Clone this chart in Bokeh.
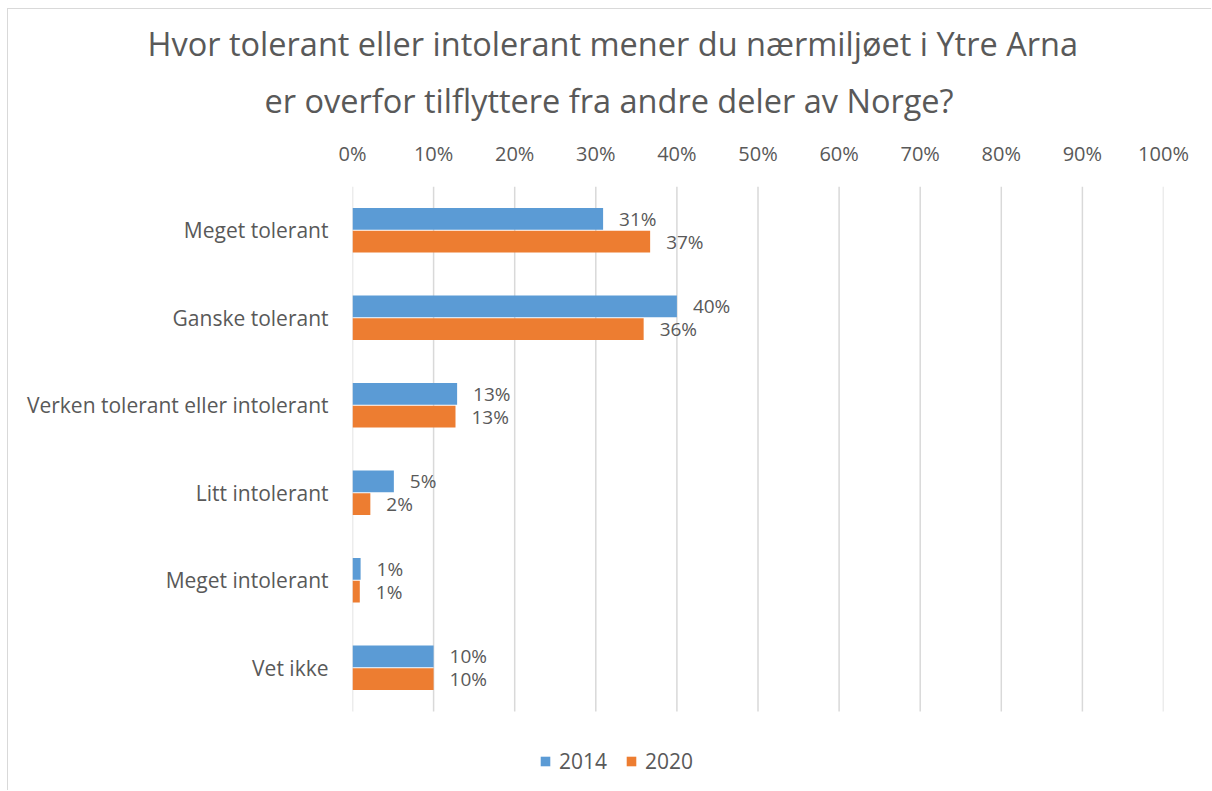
from bokeh.plotting import figure
from bokeh.models import ColumnDataSource, Legend, LegendItem, Title, LabelSet, FixedTicker
from bokeh.core.properties import value
from bokeh.embed import file_html
from bokeh.resources import INLINE

categories = ["Meget tolerant", "Ganske tolerant", "Verken tolerant eller intolerant",
              "Litt intolerant", "Meget intolerant", "Vet ikke"]
values_2014 = [30.9, 40.0, 12.9, 5.1, 1.0, 10.0]
values_2020 = [36.7, 35.9, 12.7, 2.2, 0.9, 10.0]
series_names = ["2014", "2020"]
x_ticks = [0, 10, 20, 30, 40, 50, 60, 70, 80, 90, 100]
title_lines = ["Hvor tolerant eller intolerant mener du nærmiljøet i Ytre Arna",
               "er overfor tilflyttere fra andre deler av Norge?"]

BLUE = "#5B9BD5"
ORANGE = "#ED7D31"
TXT = "#595959"
FONT = "Open Sans"

n = len(categories)
ypos = [n - 1 - i for i in range(n)]
DY = 0.13
src = ColumnDataSource(dict(
    y14=[y + DY for y in ypos],
    y20=[y - DY for y in ypos],
    v14=values_2014,
    v20=values_2020,
    l14=[f"{round(v):.0f}%" for v in values_2014],
    l20=[f"{round(v):.0f}%" for v in values_2020],
))
grid_src = ColumnDataSource(dict(x=x_ticks, y0=[-0.5] * len(x_ticks), y1=[n - 0.5] * len(x_ticks)))

p = figure(width=1204, height=782, output_backend="svg", toolbar_location=None,
           x_range=(0, 100), y_range=(-1.357, n - 0.5),
           x_axis_location="above", title=None)
p.min_border_left = 344
p.min_border_right = 49
p.min_border_top = 177
p.min_border_bottom = 5
p.outline_line_color = None
p.styles = {"margin-left": "7px", "margin-top": "8px",
            "border-left": "1.5px solid #d9d9d9", "border-top": "1.5px solid #d9d9d9"}
p.xgrid.grid_line_color = None
p.ygrid.grid_line_color = None

p.segment(x0="x", x1="x", y0="y0", y1="y1", source=grid_src, line_color="#d9d9d9", line_width=1.5)

r14 = p.hbar(y="y14", right="v14", left=0, height=0.25, source=src, color=BLUE, line_color=None)
r20 = p.hbar(y="y20", right="v20", left=0, height=0.25, source=src, color=ORANGE, line_color=None)

for col, lab, ycol in (("v14", "l14", "y14"), ("v20", "l20", "y20")):
    p.add_layout(LabelSet(x=col, y=ycol, text=lab, source=src, x_offset=16,
                          text_baseline="middle", text_font=value(FONT),
                          text_font_size="19px", text_color=TXT))

xa = p.xaxis[0]
xa.ticker = FixedTicker(ticks=x_ticks)
xa.major_label_overrides = {t: f"{t}%" for t in x_ticks}
xa.axis_line_color = None
xa.major_tick_line_color = None
xa.minor_tick_line_color = None
xa.major_label_text_font = FONT
xa.major_label_text_font_size = "20px"
xa.major_label_text_color = TXT
xa.major_label_standoff = 14

ya = p.yaxis[0]
ya.ticker = FixedTicker(ticks=ypos)
ya.major_label_overrides = {y: c for y, c in zip(ypos, categories)}
ya.axis_line_color = None
ya.major_tick_line_color = None
ya.minor_tick_line_color = None
ya.major_label_text_font = FONT
ya.major_label_text_font_size = "21px"
ya.major_label_text_color = TXT
ya.major_label_standoff = 18

t2 = Title(text=title_lines[1], align="left", offset=-88, text_font=FONT, text_font_size="32.5px",
           text_font_style="normal", text_color=TXT, standoff=28)
t1 = Title(text=title_lines[0], align="left", offset=-205, text_font=FONT, text_font_size="32.5px",
           text_font_style="normal", text_color=TXT, standoff=-8)
p.add_layout(t2, "above")
p.add_layout(t1, "above")

legend = Legend(items=[LegendItem(label=series_names[0], renderers=[r14]),
                       LegendItem(label=series_names[1], renderers=[r20])],
                orientation="horizontal", location=(187, 11),
                label_text_font=FONT, label_text_font_size="21px", label_text_color=TXT,
                glyph_width=12, glyph_height=12, spacing=18, label_standoff=8,
                border_line_color=None, background_fill_alpha=0, margin=0, padding=0)
p.add_layout(legend, "center")

open("out.html", "w").write(file_html(p, INLINE))
